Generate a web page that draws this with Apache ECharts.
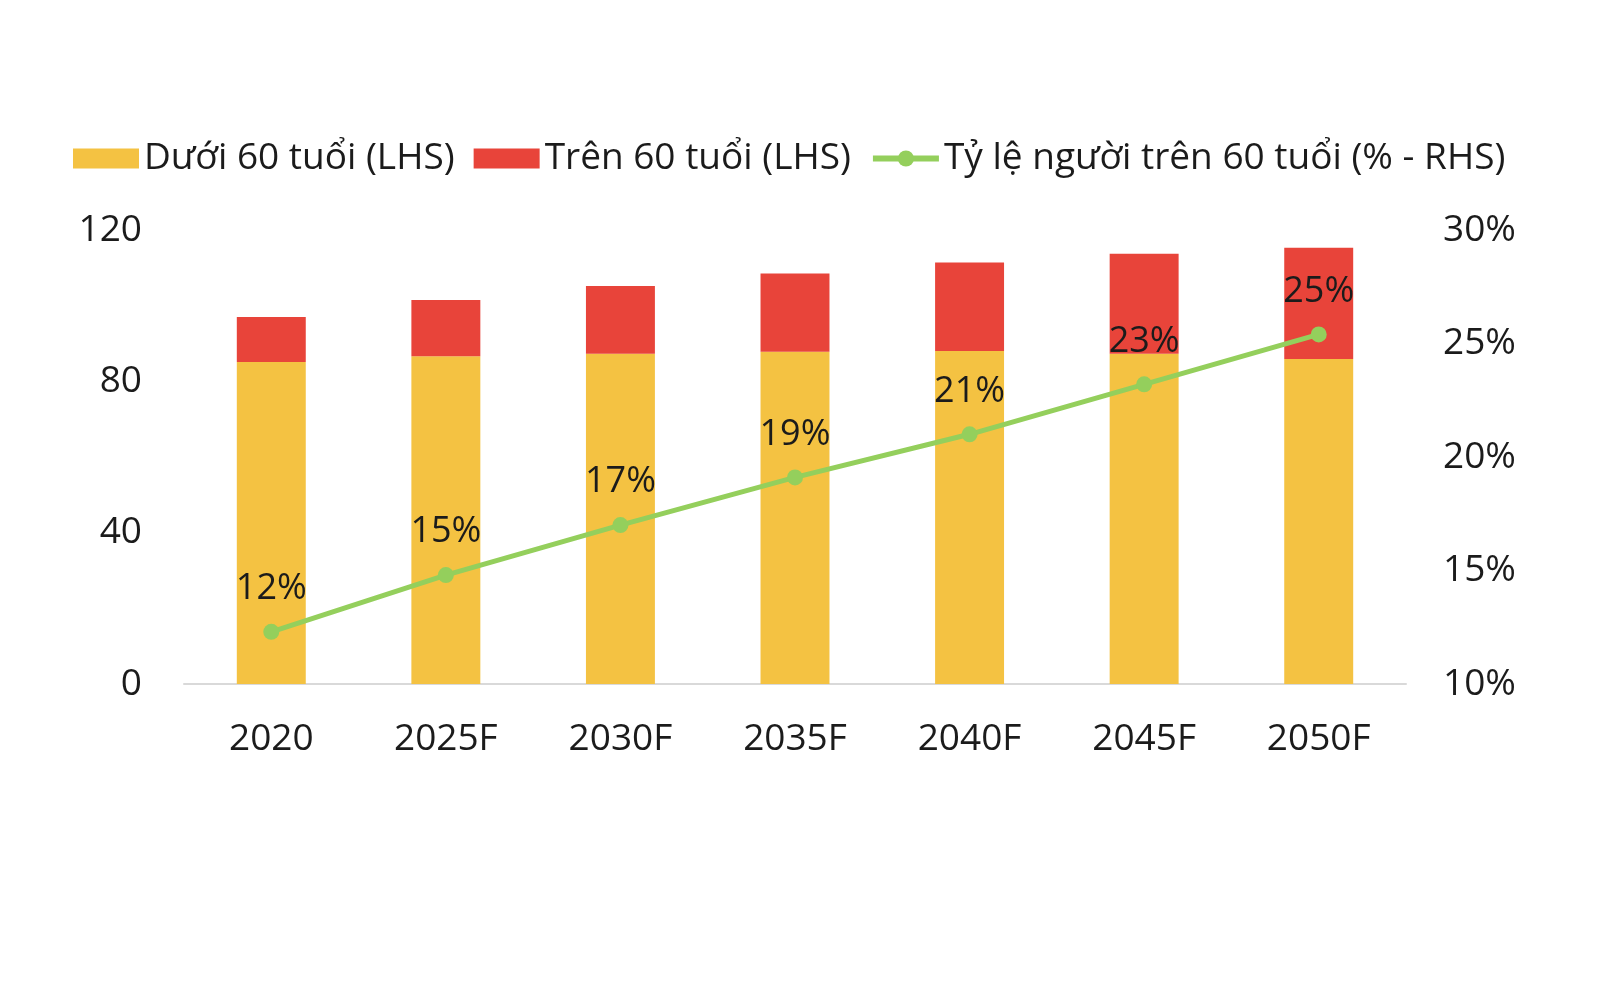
<!DOCTYPE html>
<html>
<head>
<meta charset="utf-8">
<script src="https://cdn.jsdelivr.net/npm/echarts@6/dist/echarts.min.js"></script>
<style>
  html, body { margin: 0; padding: 0; background: #fff; }
  #chart { width: 1600px; height: 1000px; }
</style>
</head>
<body>
<div id="chart"></div>
<script>
// values
const years = ['2020', '2025F', '2030F', '2035F', '2040F', '2045F', '2050F']
const under60 = [85.1, 86.6, 87.3, 87.8, 88.0, 87.3, 85.9]
const over60 = [11.9, 14.9, 17.9, 20.7, 23.4, 26.4, 29.4]
const over60Share = [12.3, 14.8, 17.0, 19.1, 21.0, 23.2, 25.4]

const FONT = '"Open Sans", sans-serif'
const TEXT = '#1b1b1b'

const chart = echarts.init(document.getElementById('chart'))
const option = {
  backgroundColor: '#fff',
  textStyle: { fontFamily: FONT },
  legend: {
    left: 68,
    top: 135,
    itemWidth: 66,
    itemHeight: 20,
    itemGap: 19,
    textStyle: { fontFamily: FONT, fontSize: 37, color: TEXT },
    data: [
      { name: 'Dưới 60 tuổi (LHS)', icon: 'rect' },
      { name: 'Trên 60 tuổi (LHS)', icon: 'rect' },
      { name: 'Tỷ lệ người trên 60 tuổi (% - RHS)', lineStyle: { width: 6 } }
    ]
  },
  grid: { left: 184, right: 194, top: 230, bottom: 316 },
  xAxis: {
    type: 'category',
    data: years,
    axisLine: { lineStyle: { color: '#d9d9d9', width: 2 } },
    axisTick: { show: false },
    axisLabel: { fontFamily: FONT, fontSize: 37, color: TEXT, margin: 37 }
  },
  yAxis: [
    {
      type: 'value',
      min: 0,
      max: 120,
      interval: 40,
      splitLine: { show: false },
      axisLine: { show: false },
      axisTick: { show: false },
      axisLabel: { fontFamily: FONT, fontSize: 37, color: TEXT, margin: 42 }
    },
    {
      type: 'value',
      min: 10,
      max: 30,
      interval: 5,
      splitLine: { show: false },
      axisLine: { show: false },
      axisTick: { show: false },
      axisLabel: { fontFamily: FONT, fontSize: 37, color: TEXT, margin: 37, formatter: '{value}%' }
    }
  ],
  series: [
    {
      name: 'Dưới 60 tuổi (LHS)',
      type: 'bar',
      stack: 'pop',
      barWidth: '39.5%',
      data: under60,
      itemStyle: { color: '#f4c242' }
    },
    {
      name: 'Trên 60 tuổi (LHS)',
      type: 'bar',
      stack: 'pop',
      data: over60,
      itemStyle: { color: '#e8443a' }
    },
    {
      name: 'Tỷ lệ người trên 60 tuổi (% - RHS)',
      type: 'line',
      yAxisIndex: 1,
      data: over60Share,
      symbol: 'circle',
      symbolSize: 16,
      lineStyle: { color: '#94cf5c', width: 5 },
      itemStyle: { color: '#94cf5c' },
      label: {
        show: true,
        position: 'top',
        distance: 17,
        fontFamily: FONT,
        fontSize: 36,
        color: TEXT,
        formatter: p => Math.round(p.value) + '%'
      },
      z: 5
    }
  ]
}
chart.setOption(option)
</script>
</body>
</html>
